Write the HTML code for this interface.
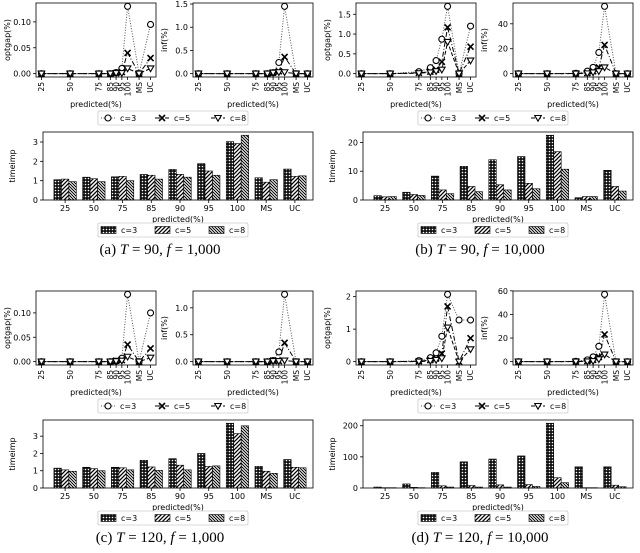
<!DOCTYPE html>
<html><head><meta charset="utf-8">
<style>
html,body{margin:0;padding:0;background:#fff;}
svg{display:block;}
text{font-family:"DejaVu Sans","Liberation Sans",sans-serif;fill:#000;}
.cap{font-family:"Liberation Serif",serif;font-size:15px;}
</style></head>
<body>
<svg id="fig" width="640" height="553" viewBox="0 0 640 553" xmlns="http://www.w3.org/2000/svg">
<defs>
<pattern id="p3" patternUnits="userSpaceOnUse" width="3" height="3"><rect width="3" height="3" fill="#111"/><circle cx="1.5" cy="1.5" r="0.8" fill="#fff"/></pattern>
<pattern id="p5" patternUnits="userSpaceOnUse" width="4" height="4"><rect width="4" height="4" fill="#fff"/><path d="M-1,1 L1,-1 M0,4 L4,0 M3,5 L5,3" stroke="#000" stroke-width="1.3"/></pattern>
<pattern id="p8" patternUnits="userSpaceOnUse" width="3" height="3"><rect width="3" height="3" fill="#fff"/><path d="M-1,2 L1,4 M0,0 L3,3 M2,-1 L4,1" stroke="#000" stroke-width="1"/></pattern>
</defs>
</svg>
<script>
const categories = ['25','50','75','85','90','95','100','MS','UC'];
const xVals = [25,50,75,85,90,95,100,110,120];
const seriesNames = ['c=3','c=5','c=8'];

// (a) T=90, f=1000
const aGap3 = [0,0,0,0,0.002,0.01,0.13,0,0.095];
const aGap5 = [0,0,0,0,0.001,0.003,0.04,0,0.03];
const aGap8 = [0,0,0,0,0.001,0.001,0.01,0,0.01];
const aInf3 = [0,0,0,0,0.02,0.24,1.45,0,0];
const aInf5 = [0,0,0,0,0.02,0.05,0.36,0,0];
const aInf8 = [0,0,0,0,0.02,0.03,0.03,0,0];
const aBar3 = [1.05,1.18,1.2,1.32,1.58,1.88,3.02,1.15,1.6];
const aBar5 = [1.08,1.1,1.22,1.28,1.33,1.5,2.92,0.92,1.22];
const aBar8 = [0.95,0.95,1.0,1.08,1.18,1.28,3.35,1.05,1.25];
const aGapTicks = [0,0.05,0.10]; const aGapLabels = ['0.00','0.05','0.10'];
const aInfTicks = [0,0.5,1.0,1.5]; const aInfLabels = ['0.0','0.5','1.0','1.5'];
const aBarTicks = [0,1,2,3]; const aBarLabels = ['0','1','2','3'];

// (b) T=90, f=10000
const bGap3 = [0,0,0.05,0.15,0.33,0.87,1.7,0,1.2];
const bGap5 = [0,0,0.02,0.05,0.1,0.3,1.17,0,0.68];
const bGap8 = [0,0,0.01,0.03,0.06,0.1,0.8,0,0.33];
const bInf3 = [0,0,0.3,2,5,17,54,0,0];
const bInf5 = [0,0,0.1,0.5,2,5,23,0,0];
const bInf8 = [0,0,0,0.2,1,2,5,0,0];
const bBar3 = [1.5,2.7,8.3,11.7,14,15.1,22.5,0.8,10.3];
const bBar5 = [1.1,1.9,3.5,4.7,5.3,5.8,16.8,1.2,4.7];
const bBar8 = [1.2,1.6,2.2,2.9,3.5,3.9,10.7,1.2,3.1];
const bGapTicks = [0,0.5,1.0,1.5]; const bGapLabels = ['0.0','0.5','1.0','1.5'];
const bInfTicks = [0,20,40]; const bInfLabels = ['0','20','40'];
const bBarTicks = [0,10,20]; const bBarLabels = ['0','10','20'];

// (c) T=120, f=1000
const cGap3 = [0,0,0,0,0.001,0.007,0.138,0,0.1];
const cGap5 = [0,0,0,0,0.002,0.003,0.035,0,0.027];
const cGap8 = [0,0,0,0,0.001,0.002,0.01,0,0.008];
const cInf3 = [0,0,0,0,0.02,0.18,1.25,0,0];
const cInf5 = [0,0,0,0,0.02,0.01,0.35,0,0];
const cInf8 = [0,0,0,0,0.01,0.01,0.02,0,0];
const cBar3 = [1.15,1.2,1.2,1.6,1.7,2.0,3.75,1.25,1.65];
const cBar5 = [1.05,1.12,1.17,1.22,1.32,1.25,3.15,0.97,1.2];
const cBar8 = [0.97,1.0,1.05,1.02,1.05,1.28,3.6,0.85,1.17];
const cGapTicks = [0,0.05,0.10]; const cGapLabels = ['0.00','0.05','0.10'];
const cInfTicks = [0,0.5,1.0]; const cInfLabels = ['0.0','0.5','1.0'];
const cBarTicks = [0,1,2,3]; const cBarLabels = ['0','1','2','3'];

// (d) T=120, f=10000
const dGap3 = [0,0,0.03,0.12,0.27,0.78,2.07,1.28,1.28];
const dGap5 = [0,0,0.01,0.05,0.1,0.25,1.7,0,0.72];
const dGap8 = [0,0,0,0.02,0.05,0.1,1.05,0,0.38];
const dInf3 = [0,0,0.3,1.5,4,13,57,0,0];
const dInf5 = [0,0,0.1,0.5,1.5,4,23,0,0];
const dInf8 = [0,0,0,0.2,0.5,2,6,0,0];
const dBar3 = [3,13,50,84,93,103,208,68,68];
const dBar5 = [1,2,7,8,10,11,33,1,9];
const dBar8 = [1,1,3,3,3,5,17,1,4];
const dGapTicks = [0,1,2]; const dGapLabels = ['0','1','2'];
const dInfTicks = [0,20,40,60]; const dInfLabels = ['0','20','40','60'];
const dBarTicks = [0,100,200]; const dBarLabels = ['0','100','200'];

const NS = 'http://www.w3.org/2000/svg';
const fig = document.getElementById('fig');
function mk(tag, attrs, parent){
  const e = document.createElementNS(NS, tag);
  for (const k in attrs) e.setAttribute(k, attrs[k]);
  parent.appendChild(e); return e;
}
function txt(parent, x, y, s, size, anchor, extra){
  const t = mk('text', Object.assign({x:x, y:y, 'font-size':size, 'text-anchor':anchor||'middle'}, extra||{}), parent);
  t.textContent = s; return t;
}
function marker(g, kind, x, y){
  if (kind === 0) { const m = mk('circle', {cx:x, cy:y, r:3, fill:'#fff', stroke:'#000', 'stroke-width':1.1}, g);
    
     }
  else if (kind === 1) { const m = mk('path', {d:`M${x-3},${y-3}L${x+3},${y+3}M${x-3},${y+3}L${x+3},${y-3}`, stroke:'#000', 'stroke-width':1.6}, g);
    
     }
  else { const m = mk('path', {d:`M${x-3.3},${y-2.5}L${x+3.3},${y-2.5}L${x},${y+3.2}Z`, fill:'#fff', stroke:'#000', 'stroke-width':1.1}, g);
    
     }
}
const lineStyles = [
  {stroke:'#555', dash:'1,1.6', w:1},
  {stroke:'#000', dash:'5,2,1,2', w:1},
  {stroke:'#000', dash:'4,2', w:1}
];
function linePlot(g, x0, x1, y0, y1, series, ticks, labels, ylabel, name){
  const pg = mk('g', {}, g);
  
  
  const xmin = 25 - 0.05*95, xmax = 120 + 0.05*95;
  const xs = v => x0 + (v - xmin)/(xmax - xmin)*(x1 - x0);
  let M = 0; series.forEach(s => s.forEach(v => { if (v > M) M = v; }));
  const lo = -0.05*M, hi = 1.05*M;
  const ys = v => y1 - (v - lo)/(hi - lo)*(y1 - y0);
  ticks.forEach((t, i) => {
    const y = ys(t);
    mk('line', {x1:x0-3, x2:x0, y1:y, y2:y, stroke:'#000', 'stroke-width':0.8}, pg);
    const l = txt(pg, x0-5, y+3, labels[i], 8, 'end');
    
    
  });
  xVals.forEach((v, i) => {
    const x = xs(v);
    mk('line', {x1:x, x2:x, y1:y1, y2:y1+3, stroke:'#000', 'stroke-width':0.8}, pg);
    const l = txt(pg, 0, 0, categories[i], 7.5, 'end', {transform:`translate(${x+2.7},${y1+5}) rotate(-90)`});
    
    
  });
  series.forEach((s, k) => {
    const st = lineStyles[k];
    const pts = s.map((v, i) => `${xs(xVals[i]).toFixed(2)},${ys(v).toFixed(2)}`).join(' ');
    const pl = mk('polyline', {points:pts, fill:'none', stroke:st.stroke, 'stroke-width':st.w, 'stroke-dasharray':st.dash}, pg);
    
    
  });
  series.forEach((s, k) => { s.forEach((v, i) => marker(pg, k, xs(xVals[i]), ys(v))); });
  mk('rect', {x:x0, y:y0, width:x1-x0, height:y1-y0, fill:'none', stroke:'#000', 'stroke-width':0.8}, pg);
  const yl = txt(pg, 0, 0, ylabel, 8, 'middle', {transform:`translate(${x0-26},${(y0+y1)/2}) rotate(-90)`});
  
  
  const xl = txt(pg, (x0+x1)/2, y1+30, 'predicted(%)', 8, 'middle');
  
  
}
const fills = ['url(#p3)','url(#p5)','url(#p8)'];
function barPlot(g, x0, x1, y0, y1, series, ticks, labels, name){
  const pg = mk('g', {}, g);
  
  
  const xmin = -0.5, xmax = 8.9;
  const xs = v => x0 + (v - xmin)/(xmax - xmin)*(x1 - x0);
  let M = 0; series.forEach(s => s.forEach(v => { if (v > M) M = v; }));
  const hi = 1.05*M;
  const ys = v => y1 - v/hi*(y1 - y0);
  const w = 0.26;
  series.forEach((s, k) => {
    s.forEach((v, i) => {
      const xa = xs(i - 1.5*w + k*w + 0.27), xb = xs(i - 0.5*w + k*w + 0.27);
      const r = mk('rect', {x:xa, y:ys(v), width:xb-xa, height:y1-ys(v), fill:fills[k], stroke:'#000', 'stroke-width':0.6}, pg);
      
      
    });
  });
  ticks.forEach((t, i) => {
    const y = ys(t);
    mk('line', {x1:x0-3, x2:x0, y1:y, y2:y, stroke:'#000', 'stroke-width':0.8}, pg);
    const l = txt(pg, x0-5, y+3, labels[i], 8, 'end');
    
    
  });
  categories.forEach((c, i) => {
    const x = xs(i + 0.27);
    mk('line', {x1:x, x2:x, y1:y1, y2:y1+3, stroke:'#000', 'stroke-width':0.8}, pg);
    const l = txt(pg, x, y1+11, c, 8, 'middle');
    
    
  });
  mk('rect', {x:x0, y:y0, width:x1-x0, height:y1-y0, fill:'none', stroke:'#000', 'stroke-width':0.8}, pg);
  const yl = txt(pg, 0, 0, 'timeimp', 8, 'middle', {transform:`translate(${x0-28},${(y0+y1)/2}) rotate(-90)`});
  
  
  const xl = txt(pg, (x0+x1)/2, y1+22, 'predicted(%)', 8, 'middle');
  
  
}
function lineLegend(g, y){
  const lg = mk('g', {}, g);
  
  
  mk('rect', {x:98, y:y-7, width:150, height:14, fill:'#fff', stroke:'#ccc', 'stroke-width':0.8, rx:1.5}, lg);
  const xsStart = [101, 155, 211];
  seriesNames.forEach((n, k) => {
    const e = mk('g', {}, lg);
    
    
    const st = lineStyles[k];
    mk('line', {x1:xsStart[k], x2:xsStart[k]+14, y1:y, y2:y, stroke:st.stroke, 'stroke-dasharray':st.dash, 'stroke-width':1}, e);
    marker(e, k, xsStart[k]+7, y);
    txt(e, xsStart[k]+19, y+3, n, 8, 'start');
  });
}
function barLegend(g, y){
  const lg = mk('g', {}, g);
  
  
  mk('rect', {x:98, y:y-7, width:150, height:14, fill:'#fff', stroke:'#ccc', 'stroke-width':0.8, rx:1.5}, lg);
  const xsStart = [101, 155, 209];
  seriesNames.forEach((n, k) => {
    const e = mk('g', {}, lg);
    
    
    mk('rect', {x:xsStart[k], y:y-3.5, width:15, height:7, fill:fills[k], stroke:'#000', 'stroke-width':0.6}, e);
    txt(e, xsStart[k]+20, y+3, n, 8, 'start');
  });
}
function caption(g, y, letter, T, f){
  const t = mk('text', {x:160, y:y, 'text-anchor':'middle', class:'cap'}, g);
  
  
  t.innerHTML = `(${letter}) <tspan font-style="italic">T</tspan> = ${T}, <tspan font-style="italic">f</tspan> = ${f}`;
}
const panels = [
  {ox:0, oy:0, l:'a', T:'90', f:'1,000', gap:[aGap3,aGap5,aGap8], inf:[aInf3,aInf5,aInf8], bar:[aBar3,aBar5,aBar8], gt:aGapTicks, gl:aGapLabels, it:aInfTicks, il:aInfLabels, bt:aBarTicks, bl:aBarLabels},
  {ox:320, oy:0, l:'b', T:'90', f:'10,000', gap:[bGap3,bGap5,bGap8], inf:[bInf3,bInf5,bInf8], bar:[bBar3,bBar5,bBar8], gt:bGapTicks, gl:bGapLabels, it:bInfTicks, il:bInfLabels, bt:bBarTicks, bl:bBarLabels},
  {ox:0, oy:288, l:'c', T:'120', f:'1,000', gap:[cGap3,cGap5,cGap8], inf:[cInf3,cInf5,cInf8], bar:[cBar3,cBar5,cBar8], gt:cGapTicks, gl:cGapLabels, it:cInfTicks, il:cInfLabels, bt:cBarTicks, bl:cBarLabels},
  {ox:320, oy:288, l:'d', T:'120', f:'10,000', gap:[dGap3,dGap5,dGap8], inf:[dInf3,dInf5,dInf8], bar:[dBar3,dBar5,dBar8], gt:dGapTicks, gl:dGapLabels, it:dInfTicks, il:dInfLabels, bt:dBarTicks, bl:dBarLabels}
];
panels.forEach(p => {
  const g = mk('g', {transform:`translate(${p.ox},${p.oy})`}, fig);
  
  
  linePlot(g, 36, 156, 3, 77, p.gap, p.gt, p.gl, 'optgap(%)', 'optgap-chart');
  linePlot(g, 193, 313, 3, 77, p.inf, p.it, p.il, 'inf(%)', 'inf-chart');
  lineLegend(g, 118);
  barPlot(g, 43, 313, 132, 200, p.bar, p.bt, p.bl, 'timeimp-bar-chart');
  barLegend(g, 230);
  caption(g, 254, p.l, p.T, p.f);
});
</script>
</body></html>
